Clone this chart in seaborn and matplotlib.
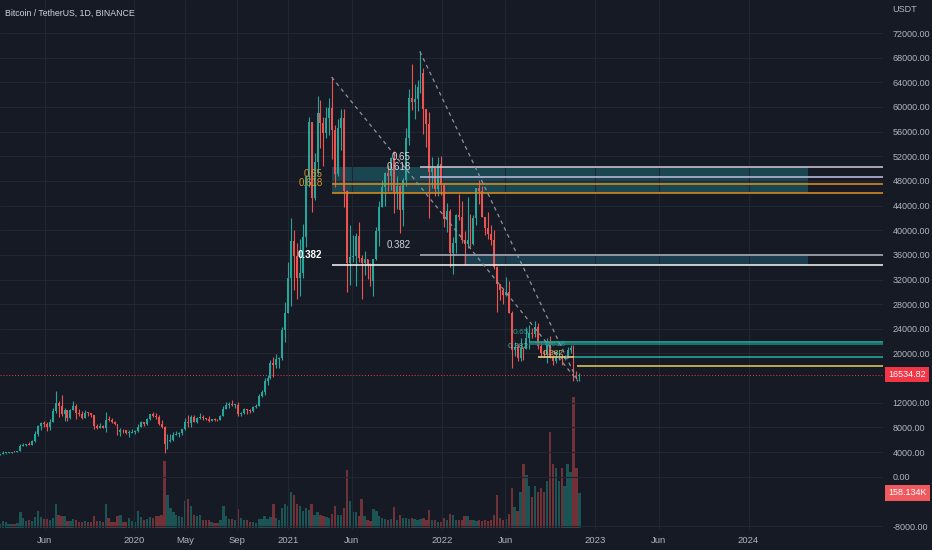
import numpy as np
import pandas as pd
import matplotlib
matplotlib.use("Agg")
import matplotlib.pyplot as plt
import matplotlib.dates as mdates
import matplotlib.transforms as mtransforms
from matplotlib.patches import Rectangle
import seaborn as sns

# weekly candles (open = previous close)
first_week = "2019-02-11"
first_open = 3600

close = [
    # 2019
    3660, 3820, 3860, 3920, 4010, 3980, 4100, 5050, 5070, 5300, 5210, 5750,
    6970, 8200, 8740, 8550, 7990, 8850, 10700, 11900, 11470, 10200, 10750, 9480,
    10800, 11550, 10330, 10140, 9600, 10390, 10310, 10030, 8200, 7870, 8300, 7950,
    9250, 9200, 8800, 8480, 7300, 7550, 7500, 7080, 7150, 7250, 7350,
    # 2020
    8100, 8900, 8600, 9370, 10150, 9900, 9670, 8520, 8030, 5360, 5820, 5880, 6780,
    6900, 7120, 7700, 8900, 8720, 9680, 8900, 9450, 9670, 9460, 9300, 9010, 9290,
    9250, 9160, 9930, 11050, 11680, 11850, 11650, 11700, 10250, 10330, 10930, 10770,
    10660, 11370, 11500, 13030, 13800, 15480, 16050, 18400, 18180, 19150, 19270,
    23850, 26500, 32200,
    # 2021
    38200, 35800, 32300, 33100, 38900, 48600, 57500, 45200, 51000, 59000, 57400,
    55800, 58200, 59800, 56200, 49100, 56600, 58200, 46400, 34700, 35600, 35800,
    39100, 35500, 34700, 35300, 34250, 31800, 35400, 39850, 43800, 47000, 49300,
    48800, 51750, 46050, 47250, 43200, 48200, 54950, 61500, 60850, 61300, 63300,
    65500, 59700, 57300, 49400, 50100, 46700, 50800, 47300,
    # 2022
    41860, 43100, 36300, 37900, 42400, 42200, 38400, 37700, 38400, 37800, 42000,
    46800, 46400, 42150, 40400, 39450, 38450, 34050, 31300, 30300, 29450, 29900,
    26570, 20550, 21020, 19300, 20830, 20800, 22580, 23300, 23180, 24300, 21130,
    20030, 19950, 21800, 19400, 18800, 19310, 19420, 19180, 19570, 20630, 20900,
    16330, 16280, 16534.82,
]

high = [
    # 2019
    3700, 4200, 3900, 3950, 4050, 4100, 4150, 5350, 5470, 5360, 5630, 5900,
    7450, 8370, 8940, 9100, 8850, 9400, 11200, 13970, 12300, 13200, 11100, 10650,
    11000, 12330, 11800, 10950, 10600, 10900, 10500, 10350, 10060, 8550, 8650, 8440,
    10540, 9800, 9500, 9080, 8500, 7840, 7700, 7500, 7500, 7700, 7550,
    # 2020
    8500, 9000, 8900, 9600, 10180, 10500, 10300, 9960, 9190, 8180, 6900, 7000, 7200,
    7460, 7300, 7800, 9480, 10070, 9940, 10000, 9700, 10400, 9960, 9590, 9800, 9370,
    9470, 9300, 9990, 11450, 12100, 12100, 12480, 11720, 12080, 10580, 11180, 10980,
    10980, 11490, 11720, 13350, 14100, 15970, 16480, 18950, 19480, 19900, 19500,
    24300, 28400, 34800,
    # 2021
    42000, 40100, 37850, 38600, 40950, 49000, 58350, 57500, 52600, 61800, 61200,
    58400, 60000, 61400, 64850, 57000, 58000, 59600, 59600, 46600, 40800, 39300,
    39500, 41300, 36000, 36700, 35100, 34600, 35400, 40600, 44800, 48100, 49400,
    50500, 51900, 52900, 48850, 47400, 48500, 56600, 62900, 67000, 63700, 64300,
    69000, 66400, 59300, 59100, 51900, 49500, 51900, 52100,
    # 2022
    47600, 44450, 43500, 38900, 42600, 45850, 44700, 39800, 45400, 42600, 42400,
    46900, 48190, 47200, 41600, 42980, 40800, 40000, 34250, 30800, 30600, 32400,
    31800, 26900, 21900, 21550, 22500, 21000, 24300, 24650, 24200, 25200, 25000,
    21900, 20600, 22500, 22800, 19700, 20400, 20500, 19950, 19700, 21000, 21450,
    21450, 17200, 16800,
]

low = [
    # 2019
    3580, 3640, 3700, 3780, 3850, 3930, 3960, 4100, 4950, 4980, 5110, 5130,
    5700, 6600, 7500, 8000, 7450, 7520, 8800, 10300, 9620, 9850, 9070, 9100,
    9400, 10750, 9420, 9800, 9320, 9600, 9900, 9700, 7800, 7700, 7840, 7900,
    7300, 8990, 8680, 8360, 6800, 6530, 7100, 6900, 6430, 7050, 6850,
    # 2020
    7300, 8100, 8250, 8460, 9140, 9720, 9300, 8400, 7980, 3780, 4450, 5700, 5870,
    6780, 6470, 6770, 7650, 8100, 8100, 8800, 8640, 9300, 9200, 9200, 8900, 8980,
    9100, 9050, 9150, 10600, 11000, 11200, 11550, 11130, 9880, 9890, 10200, 10130,
    10370, 10540, 11150, 11400, 12900, 13200, 14860, 15800, 16200, 17600, 17650,
    19000, 21800, 26700,
    # 2021
    27700, 30300, 28850, 29250, 32300, 37300, 47000, 43000, 44900, 48900, 53300,
    50400, 55000, 55500, 51500, 47050, 48800, 53000, 43800, 30000, 31100, 34800,
    31000, 34800, 28800, 32700, 32050, 31000, 29300, 35200, 37400, 43700, 43900,
    46300, 46500, 42800, 43400, 39600, 40700, 47100, 53800, 59550, 58100, 59400,
    62300, 55600, 53500, 42000, 46800, 45500, 45600, 45700,
    # 2022
    40500, 39650, 34000, 32900, 36250, 41700, 38000, 34300, 37150, 37200, 37550,
    40900, 44200, 42100, 39200, 38550, 37550, 33700, 26700, 28650, 28000, 29300,
    26550, 17600, 19600, 18800, 18800, 18900, 20750, 20700, 22450, 22650, 20800,
    19600, 19500, 18500, 19300, 18150, 18500, 19000, 18190, 18900, 19250, 20050,
    15600, 16000, 15476,
]

# volume overlay, thousand BTC
volume_k = [
    # 2019
    20, 30, 25, 20, 20, 20, 22, 70, 45, 30, 35, 32, 50, 75, 50, 42, 40, 35, 45, 110,
    60, 55, 55, 32, 32, 40, 35, 28, 28, 32, 25, 25, 55, 32, 32, 25, 110, 45, 28, 25,
    55, 60, 28, 28, 45, 32, 28,
    # 2020
    75, 50, 38, 42, 50, 45, 55, 55, 60, 300, 150, 90, 70, 60, 52, 48, 120, 130, 100,
    60, 52, 60, 38, 34, 34, 26, 22, 22, 38, 100, 55, 42, 42, 34, 85, 45, 34, 34, 26,
    26, 22, 42, 42, 55, 42, 50, 110, 45, 34, 90, 110, 100,
    # 2021
    160, 150, 110, 100, 75, 90, 80, 110, 60, 70, 58, 52, 48, 45, 65, 100, 60, 60,
    90, 260, 120, 70, 70, 52, 130, 52, 34, 30, 85, 75, 52, 45, 42, 38, 42, 95, 38,
    58, 45, 45, 42, 45, 42, 34, 42, 45, 34, 80, 38, 34, 26, 26,
    # 2022
    45, 34, 65, 60, 38, 38, 34, 55, 55, 34, 34, 30, 34, 30, 34, 30, 34, 60, 150, 45,
    38, 42, 65, 180, 95, 75, 160, 290, 240, 190, 140, 190, 160, 180, 160, 210, 430,
    290, 270, 210, 270, 190, 290, 250, 590, 270, 158.134,
]

last_price = 16534.82
last_volume_label = "158.134K"

x_tick_dates = ["2019-06-01", "2020-01-01", "2020-05-01", "2020-09-01", "2021-01-01",
                "2021-06-01", "2022-01-01", "2022-06-01", "2023-01-01", "2023-06-01",
                "2024-01-01"]
x_tick_labels = ["Jun", "2020", "May", "Sep", "2021", "Jun", "2022", "Jun", "2023", "Jun", "2024"]
price_ticks = [v for v in range(-8000, 72001, 4000) if v not in (-4000, 16000)]

# fib retracements drawn on the chart
fib_ratios = [0.65, 0.618, 0.382]
fib_low = 15476
fib_low_date = "2022-11-21"
fib1_high, fib1_date = 64850, "2021-04-14"
fib2_high, fib2_date = 69000, "2021-11-10"
fib1_colors = ["#d08a1f", "#d08a1f", "#e8e8e8"]
fib2_colors = ["#c9bccf", "#b7b4d4", "#a7a9b9"]
zone_end = "2024-05-22"

small_prices = [21900, 21600, 19470, 19400, 18010]
small_starts = ["2022-07-28", "2022-07-28", "2022-11-12", "2022-08-17", "2022-11-20"]
small_ends = [None, None, None, "2022-11-12", None]
small_colors = ["#26a69a", "#1f8078", "#26a69a", "#ddd08c", "#d6c25c"]
small_label_text = ["0.65", "0.382", "0.618", "0.382"]
small_label_dates = ["2022-07-08", "2022-07-03", "2022-09-29", "2022-09-24"]
small_label_prices = [23370, 21050, 21380, 19920]
small_label_colors = ["#2bb0a2", "#6fb9ae", "#2bb0a2", "#f0d060"]

BG = "#161a25"
GRID = "#222632"
TXT = "#b2b5be"
UP = "#26a69a"
DOWN = "#ef5350"

sns.set_theme(style="darkgrid", rc={
    "axes.facecolor": BG, "figure.facecolor": BG, "grid.color": GRID,
    "text.color": TXT, "xtick.color": TXT, "ytick.color": TXT,
    "grid.linewidth": 0.8,
})
plt.rcParams["font.family"] = ["Liberation Sans", "DejaVu Sans"]

assert len(close) == len(high) == len(low) == len(volume_k), (len(close), len(high), len(low), len(volume_k))

df = pd.DataFrame({
    "date": pd.date_range(first_week, periods=len(close), freq="7D") + pd.Timedelta(days=3.5),
    "close": close, "high": high, "low": low, "volume": volume_k,
})
df["open"] = df["close"].shift(1).fillna(first_open)
df["high"] = df[["high", "open", "close"]].max(axis=1)
df["low"] = df[["low", "open", "close"]].min(axis=1)
df["up"] = df["close"] >= df["open"]
df["x"] = mdates.date2num(df["date"])

W, H = 932, 550
fig = plt.figure(figsize=(W / 100, H / 100), dpi=100)
rect = [0, 20 / H, 883 / W, 530 / H]
axv = fig.add_axes(rect, zorder=0)
ax = fig.add_axes(rect, zorder=1, sharex=axv)
ax.patch.set_alpha(0)

d0 = mdates.date2num(pd.Timestamp("2020-01-01"))
xmin, xmax = d0 - 320.0, d0 + 1781.0
ax.set_xlim(xmin, xmax)
ax.set_ylim(-8649, 77355)

# volume
vcol = np.where(df["up"], UP, DOWN)
axv.bar(df["x"], df["volume"], width=5.5, color=vcol, alpha=0.42, linewidth=0)
axv.set_ylim(-9, 2376)
axv.set_axis_off()
axv.text(1.006, 158.134, last_volume_label,
         transform=mtransforms.blended_transform_factory(axv.transAxes, axv.transData),
         ha="left", va="center", color="white", fontsize=6.5, clip_on=False,
         bbox=dict(boxstyle="square,pad=0.35", fc="#f05a5f", ec="none"))

# zones
def dn(s):
    return mdates.date2num(pd.Timestamp(s))

lvl1 = [fib_low + r * (fib1_high - fib_low) for r in fib_ratios]
lvl2 = [fib_low + r * (fib2_high - fib_low) for r in fib_ratios]
ax.add_patch(Rectangle((dn(fib1_date), lvl1[1]), dn(zone_end) - dn(fib1_date), lvl2[0] - lvl1[1],
                       facecolor="#1a4651", edgecolor="none", zorder=0.5))
ax.add_patch(Rectangle((dn("2022-02-23"), lvl1[2]), dn(zone_end) - dn("2022-02-23"), lvl2[2] - lvl1[2],
                       facecolor="#1b3e4e", edgecolor="none", zorder=0.5))

# candles
ccol = np.where(df["up"], UP, DOWN)
ax.vlines(df["x"], df["low"], df["high"], colors=ccol, linewidth=0.8, zorder=2)
body = (df["close"] - df["open"]).abs().clip(lower=120)
ax.bar(df["x"], body, bottom=df[["open", "close"]].min(axis=1), width=4.6,
       color=ccol, linewidth=0, zorder=2)

# fib lines and labels
lab_off = mtransforms.ScaledTranslation(-9 / 100, 10 / 100, fig.dpi_scale_trans)
for levels, start, colors, lab_colors in [
    (lvl1, fib1_date, fib1_colors, ["#d8952a", "#d8952a", "#ffffff"]),
    (lvl2, fib2_date, fib2_colors, ["#d1d4dc"] * 3),
]:
    for r, p, c, lc in zip(fib_ratios, levels, colors, lab_colors):
        ax.hlines(p, dn(start), xmax, colors=c, linewidth=1.2, zorder=3)
        bold = "bold" if (start == fib1_date and r == 0.382) else "normal"
        ax.text(dn(start), p, f"{r:g}", transform=ax.transData + lab_off,
                ha="right", va="center", color=lc, fontsize=7, fontweight=bold, zorder=4)

for p, s, e, c in zip(small_prices, small_starts, small_ends, small_colors):
    ax.hlines(p, dn(s), dn(e) if e else xmax, colors=c, linewidth=1.2, zorder=3)
for t, d, p, c in zip(small_label_text, small_label_dates, small_label_prices, small_label_colors):
    ax.text(dn(d), p, t, ha="center", va="center", color=c, fontsize=6, alpha=0.85, zorder=4)

# dashed swing lines
for d1, p1 in [(fib1_date, fib1_high), (fib2_date, fib2_high)]:
    sns.lineplot(x=[dn(d1), dn(fib_low_date)], y=[p1, fib_low], ax=ax, color="#8f929b",
                 linewidth=0.9, linestyle=(0, (3, 3)), zorder=3)

# last price
ax.axhline(last_price, color="#f23645", linewidth=0.7, linestyle=(0, (1, 2)), zorder=1)
ax.text(1.006, last_price, f"{last_price:.2f}",
        transform=mtransforms.blended_transform_factory(ax.transAxes, ax.transData),
        ha="left", va="center", color="white", fontsize=6.5, clip_on=False, zorder=5,
        bbox=dict(boxstyle="square,pad=0.35", fc="#f23645", ec="none"))

# axes
ax.yaxis.tick_right()
ax.set_yticks(price_ticks)
ax.set_yticklabels([f"{v:.2f}" for v in price_ticks])
ax.set_xticks([dn(d) for d in x_tick_dates])
ax.set_xticklabels(x_tick_labels)
ax.tick_params(axis="y", length=0, pad=7, labelsize=6.5, labelcolor=TXT)
ax.tick_params(axis="x", length=0, pad=4, labelsize=6.8, labelcolor=TXT)
ax.grid(True, color=GRID, linewidth=0.8)
ax.set_xlabel("")
ax.set_ylabel("")
for sp in ax.spines.values():
    sp.set_visible(False)

fig.text(5 / W, 1 - 13 / H, "Bitcoin / TetherUS, 1D, BINANCE", ha="left", va="center",
         color="#d1d4dc", fontsize=6.3)
fig.text(892 / W, 1 - 10 / H, "USDT", ha="left", va="center", color=TXT, fontsize=6.5)

fig.savefig("out.png", dpi=100, facecolor=BG)
